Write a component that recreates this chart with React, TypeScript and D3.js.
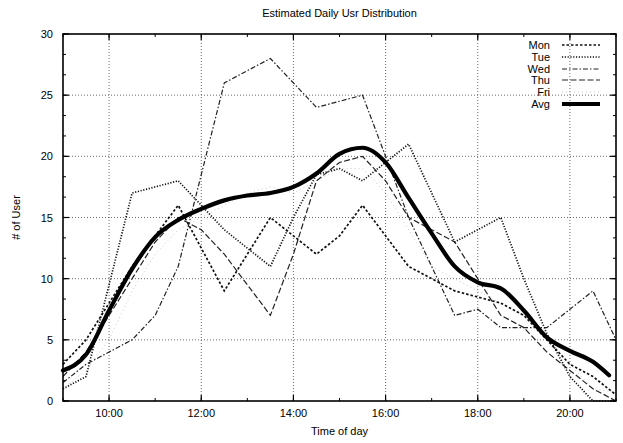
import React from "react";
import * as d3 from "d3";

const W = 623;
const H = 443;

const hours = [9, 9.5, 10, 10.5, 11, 11.5, 12, 12.5, 13, 13.5, 14, 14.5, 15, 15.5, 16, 16.5, 17, 17.5, 18, 18.5, 19, 19.5, 20, 20.5, 21];

const mon = [3, 5, 8, 11, 13.5, 16, 12.5, 9, 12, 15, 13.5, 12, 13.5, 16, 13.5, 11, 10, 9, 8.5, 8, 7, 5, 3, 2, 0.5];
const tue = [1, 2, 9.5, 17, 17.5, 18, 16, 14, 12.5, 11, 15, 18.5, 19, 18, 19.5, 21, 17, 13, 14, 15, 10, 5.5, 2, 0, 0];
const wed = [1.5, 3, 4, 5, 7, 11, 18.5, 26, 27, 28, 26, 24, 24.5, 25, 20, 15, 11, 7, 7.5, 6, 6, 6, 7.5, 9, 5];
const thu = [2, 4, 7, 10, 13, 15, 14, 12, 9.5, 7, 12, 18, 19.5, 20, 18, 15, 14, 13, 10, 7, 6, 4, 2.5, 1, 0];
const fri = [1, 2.5, 5, 9, 12, 14, 15, 16, 17, 17.5, 17, 18, 19, 19, 17, 14, 11, 10, 9, 8, 7, 5, 3, 1, 0.7];

const avgHours = [9, 9.5, 10, 10.5, 11, 11.5, 12, 12.5, 13, 13.5, 14, 14.5, 15, 15.5, 16, 16.5, 17, 17.5, 18, 18.5, 19, 19.5, 20, 20.5, 20.85];
const avg = [2.5, 3.8, 7.4, 10.8, 13.4, 14.8, 15.7, 16.4, 16.8, 17, 17.5, 18.6, 20.2, 20.7, 19.5, 16.6, 13.7, 11, 9.7, 9.2, 7.4, 5.2, 4.1, 3.2, 2.1];

const seriesNames = ["Mon", "Tue", "Wed", "Thu", "Fri", "Avg"];
const xTickHours = [10, 12, 14, 16, 18, 20];
const xTickLabels = ["10:00", "12:00", "14:00", "16:00", "18:00", "20:00"];
const yTicks = [0, 5, 10, 15, 20, 25, 30];

const title = "Estimated Daily Usr Distribution";
const xLabel = "Time of day";
const yLabel = "# of User";

export default function App() {
  const left = 63, right = 616, top = 34, bottom = 401;
  const x = d3.scaleLinear().domain([9, 21]).range([left, right]);
  const y = d3.scaleLinear().domain([0, 30]).range([bottom, top]);

  const styles: Record<string, any> = {
    Mon: { stroke: "#111", width: 1.7, dash: "2.5,2" },
    Tue: { stroke: "#111", width: 1.7, dash: "1.2,1.6" },
    Wed: { stroke: "#222", width: 1.2, dash: "5,2,1.5,2" },
    Thu: { stroke: "#222", width: 1.2, dash: "6,2.5" },
    Fri: { stroke: "#bbb", width: 0.8, dash: "1,3" },
    Avg: { stroke: "#000", width: 4.2, dash: null },
  };

  const dataMap: Record<string, number[]> = { Mon: mon, Tue: tue, Wed: wed, Thu: thu, Fri: fri };

  const line = d3
    .line<[number, number]>()
    .x((d) => x(d[0]))
    .y((d) => y(d[1]));
  const smooth = d3
    .line<[number, number]>()
    .x((d) => x(d[0]))
    .y((d) => y(d[1]))
    .curve(d3.curveMonotoneX);

  const minorX = d3.range(9, 21.01, 1);
  const minorY = d3.range(0, 30.01, 5 / 3);

  const font = "'Liberation Sans', Arial, sans-serif";

  const legendRows = [45, 57, 69, 80, 92, 104];

  return (
    <svg width={W} height={H} style={{ position: "absolute", left: 0, top: 0, background: "#fff" }} fontFamily={font}>
      <rect x={0} y={0} width={W} height={H} fill="#fff" />
      {xTickHours.map((h) => (
        <line key={"gx" + h} x1={x(h)} x2={x(h)} y1={top} y2={bottom} stroke="#444" strokeWidth={0.8} strokeDasharray="1,2" />
      ))}
      {yTicks.slice(1, -1).map((v) => (
        <line key={"gy" + v} x1={left} x2={right} y1={y(v)} y2={y(v)} stroke="#444" strokeWidth={0.8} strokeDasharray="1,2" />
      ))}
      {minorX.map((h) => (
        <g key={"mx" + h}>
          <line x1={x(h)} x2={x(h)} y1={bottom} y2={bottom - 3} stroke="#000" strokeWidth={1} />
          <line x1={x(h)} x2={x(h)} y1={top} y2={top + 3} stroke="#000" strokeWidth={1} />
        </g>
      ))}
      {minorY.map((v, i) => (
        <g key={"my" + i}>
          <line x1={left} x2={left + 3} y1={y(v)} y2={y(v)} stroke="#000" strokeWidth={1} />
          <line x1={right} x2={right - 3} y1={y(v)} y2={y(v)} stroke="#000" strokeWidth={1} />
        </g>
      ))}
      {xTickHours.map((h) => (
        <g key={"tx" + h}>
          <line x1={x(h)} x2={x(h)} y1={bottom} y2={bottom - 6} stroke="#000" strokeWidth={1.2} />
          <line x1={x(h)} x2={x(h)} y1={top} y2={top + 6} stroke="#000" strokeWidth={1.2} />
        </g>
      ))}
      {yTicks.map((v) => (
        <g key={"ty" + v}>
          <line x1={left} x2={left + 6} y1={y(v)} y2={y(v)} stroke="#000" strokeWidth={1.2} />
          <line x1={right} x2={right - 6} y1={y(v)} y2={y(v)} stroke="#000" strokeWidth={1.2} />
        </g>
      ))}
      {["Fri", "Thu", "Wed", "Tue", "Mon"].map((name) => {
        const st = styles[name];
        const pts = hours.map((h, i) => [h, dataMap[name][i]] as [number, number]);
        return (
          <path key={name} d={line(pts) || ""} fill="none" stroke={st.stroke} strokeWidth={st.width} strokeDasharray={st.dash} />
        );
      })}
      <path
        d={smooth(avgHours.map((h, i) => [h, avg[i]] as [number, number])) || ""}
        fill="none"
        stroke="#000"
        strokeWidth={4.2}
        strokeLinecap="round"
        strokeLinejoin="round"
      />
      <rect x={left} y={top} width={right - left} height={bottom - top} fill="none" stroke="#000" strokeWidth={1.6} />
      {xTickHours.map((h, i) => (
        <text key={"lx" + h} x={x(h)} y={bottom + 16} fontSize={11} textAnchor="middle" fill="#000">
          {xTickLabels[i]}
        </text>
      ))}
      {yTicks.map((v) => (
        <text key={"ly" + v} x={left - 10} y={y(v) + 4} fontSize={11} textAnchor="end" fill="#000">
          {v}
        </text>
      ))}
      <text x={(left + right) / 2} y={17} fontSize={11} textAnchor="middle" fill="#000">{title}</text>
      <text x={(left + right) / 2} y={435} fontSize={11} textAnchor="middle" fill="#000">{xLabel}</text>
      <text transform={`translate(20,${(top + bottom) / 2}) rotate(-90)`} fontSize={11} textAnchor="middle" fill="#000">{yLabel}</text>
      {seriesNames.map((name, i) => {
        const st = styles[name];
        const yy = legendRows[i];
        return (
          <g key={"lg" + name}>
            <text x={550} y={yy + 4} fontSize={11} textAnchor="end" fill="#000">{name}</text>
            <line x1={562} x2={600} y1={yy} y2={yy} stroke={st.stroke} strokeWidth={st.width} strokeDasharray={st.dash || undefined} />
          </g>
        );
      })}
    </svg>
  );
}
